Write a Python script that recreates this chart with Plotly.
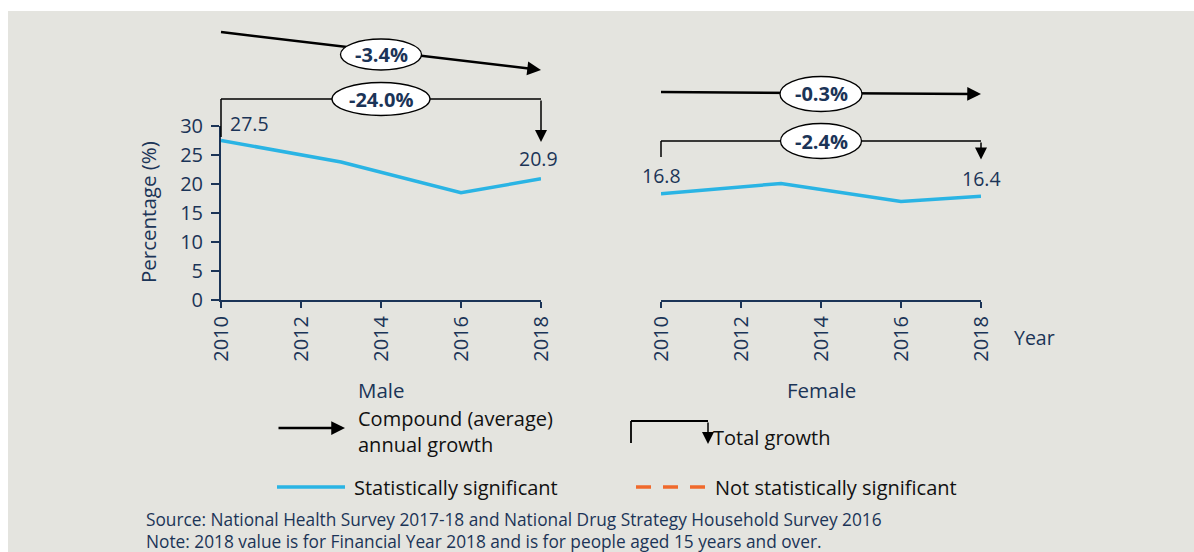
import plotly.graph_objects as go

# ---- data -------------------------------------------------------------
years_male = [2010, 2013, 2016, 2018]
pct_male = [27.5, 23.8, 18.5, 20.9]

years_female = [2010, 2013, 2016, 2018]
pct_female = [16.8, 18.6, 15.5, 16.4]

tick_years = [2010, 2012, 2014, 2016, 2018]
y_ticks = [0, 5, 10, 15, 20, 25, 30]

# ---- style ------------------------------------------------------------
W, H = 1194, 552
NAVY = "#1b3457"
BLUE = "#2ab4e4"
ORANGE = "#f0692c"
BG = "#e4e4df"
INK = "#111111"
FONT = "Open Sans"


def fx(px):
    return px / W


def fy(py):
    return 1 - py / H


def growth_labels(values):
    first, last = values[0], values[-1]
    total = (last / first - 1) * 100
    cagr = ((last / first) ** (1 / 8) - 1) * 100
    return f"{cagr:.1f}%", f"{total:.1f}%"


fig = go.Figure()

fig.add_trace(go.Scatter(x=years_male, y=pct_male, mode="lines",
                         line=dict(color=BLUE, width=3.5),
                         xaxis="x", yaxis="y", showlegend=False,
                         hoverinfo="x+y"))
fig.add_trace(go.Scatter(x=years_female, y=pct_female, mode="lines",
                         line=dict(color=BLUE, width=3.5),
                         xaxis="x2", yaxis="y2", showlegend=False,
                         hoverinfo="x+y"))

xaxis_common = dict(range=[2010, 2018], tickvals=tick_years, tickangle=-90,
                    ticks="outside", ticklen=6, tickwidth=2, tickcolor=NAVY,
                    showline=True, linecolor=NAVY, linewidth=2,
                    showgrid=False, zeroline=False, automargin=False,
                    tickfont=dict(family=FONT, size=20, color=NAVY))

fig.update_layout(
    width=W, height=H,
    margin=dict(l=0, r=0, t=0, b=0, pad=0, autoexpand=False),
    paper_bgcolor="white",
    plot_bgcolor="rgba(0,0,0,0)",
    font=dict(family=FONT, color=NAVY),
    xaxis=dict(domain=[fx(221), fx(541)], anchor="y", **xaxis_common),
    yaxis=dict(domain=[fy(300), fy(126)], anchor="x", range=[0, 30],
               tickvals=y_ticks, ticks="outside", ticklen=8, tickwidth=2,
               tickcolor=NAVY, showline=True, linecolor=NAVY, linewidth=2,
               showgrid=False, zeroline=False, ticklabelstandoff=4,
               automargin=False,
               tickfont=dict(family=FONT, size=20, color=NAVY)),
    xaxis2=dict(domain=[fx(661), fx(981)], anchor="y2", **xaxis_common),
    yaxis2=dict(domain=[fy(300), fy(126)], anchor="x2", range=[-1.5, 28.5],
                visible=False, automargin=False),
)

shapes = []
annotations = []

# background panel
shapes.append(dict(type="rect", xref="paper", yref="paper",
                   x0=fx(8), x1=1, y0=0, y1=fy(11),
                   fillcolor=BG, line=dict(width=0), layer="below"))

# value labels at first and last points
label_specs = [
    ("x", "y", years_male[0], pct_male[0], "left", 7, 2),
    ("x", "y", years_male[-1], pct_male[-1], "center", -3, 5),
    ("x2", "y2", years_female[0], pct_female[0], "center", 0, 3),
    ("x2", "y2", years_female[-1], pct_female[-1], "center", 0, 2),
]
for xr, yr, xv, yv, xa, xs, ys in label_specs:
    annotations.append(dict(xref=xr, yref=yr, x=xv, y=yv, text=f"{yv}",
                            showarrow=False, xanchor=xa, yanchor="bottom",
                            xshift=xs, yshift=ys,
                            font=dict(family=FONT, size=19.5, color=NAVY)))

# growth indicators per panel
panels = [
    dict(xref="x domain", vals=pct_male, tail_y=32, head_y=70,
         cagr_y=54.5, cagr_rx=40.5, cagr_ry=15.5,
         br_top=99, br_left=137, br_tip=142, tot_rx=49, tot_ry=16.5),
    dict(xref="x2 domain", vals=pct_female, tail_y=92, head_y=94,
         cagr_y=94, cagr_rx=41, cagr_ry=17.5,
         br_top=141, br_left=157, br_tip=159.5, tot_rx=40.5, tot_ry=17.5),
]
for p in panels:
    cagr_txt, total_txt = growth_labels(p["vals"])
    xr = p["xref"]
    # compound annual growth arrow: shaft as a shape, head as a short arrow
    frac = 1 - 8 / 320
    shaft_end = p["tail_y"] + (p["head_y"] - p["tail_y"]) * frac
    shapes.append(dict(type="line", xref=xr, yref="paper", x0=0, x1=frac,
                       y0=fy(p["tail_y"]), y1=fy(shaft_end),
                       line=dict(color="black", width=2.5)))
    drop = (p["head_y"] - p["tail_y"]) / 320 * 12
    annotations.append(dict(xref=xr, yref="paper", x=1, y=fy(p["head_y"]),
                            axref="pixel", ayref="pixel", ax=-12, ay=-drop,
                            text="", showarrow=True, arrowhead=2,
                            arrowsize=1.1, arrowwidth=2.5,
                            arrowcolor="black", standoff=0))
    # total growth bracket
    shapes.append(dict(type="line", xref=xr, yref="paper", x0=0, x1=1,
                       y0=fy(p["br_top"]), y1=fy(p["br_top"]),
                       line=dict(color="black", width=1.5)))
    shapes.append(dict(type="line", xref=xr, yref="paper", x0=0, x1=0,
                       y0=fy(p["br_top"]), y1=fy(p["br_left"]),
                       line=dict(color="black", width=1.5)))
    annotations.append(dict(xref=xr, yref="paper", x=1, y=fy(p["br_tip"]),
                            axref="pixel", ayref="pixel", ax=0,
                            ay=-(p["br_tip"] - p["br_top"]), text="",
                            showarrow=True, arrowhead=2, arrowsize=1.6,
                            arrowwidth=1.5, arrowcolor="black", standoff=0))
    # ellipse badges
    for cy, rx, ry, txt in [(p["cagr_y"], p["cagr_rx"], p["cagr_ry"], cagr_txt),
                            (p["br_top"], p["tot_rx"], p["tot_ry"], total_txt)]:
        shapes.append(dict(type="circle", xref=xr, yref="paper",
                           xsizemode="pixel", ysizemode="pixel",
                           xanchor=0.5, yanchor=fy(cy),
                           x0=-rx, x1=rx, y0=-ry, y1=ry,
                           fillcolor="white", line=dict(color="black", width=1.3)))
        annotations.append(dict(xref=xr, yref="paper", x=0.5, y=fy(cy),
                                text=f"<b>{txt}</b>", showarrow=False,
                                xanchor="center", yanchor="middle",
                                font=dict(family=FONT, size=20, color=NAVY)))

# axis titles and panel names
annotations += [
    dict(xref="paper", yref="paper", x=fx(148), y=fy(212), text="Percentage (%)",
         textangle=-90, showarrow=False, xanchor="center", yanchor="middle",
         font=dict(family=FONT, size=20.5, color=NAVY)),
    dict(xref="paper", yref="paper", x=fx(1012), y=fy(337), text="Year",
         showarrow=False, xanchor="left", yanchor="middle",
         font=dict(family=FONT, size=19.5, color=NAVY)),
    dict(xref="x domain", yref="paper", x=0.5, y=fy(390), text="Male",
         showarrow=False, xanchor="center", yanchor="middle",
         font=dict(family=FONT, size=20.5, color=NAVY)),
    dict(xref="x2 domain", yref="paper", x=0.5, y=fy(390), text="Female",
         showarrow=False, xanchor="center", yanchor="middle",
         font=dict(family=FONT, size=20.5, color=NAVY)),
]

# key
annotations += [
    dict(xref="paper", yref="paper", x=fx(345), y=fy(428), axref="pixel",
         ayref="pixel", ax=-68, ay=0, text="", showarrow=True, arrowhead=2,
         arrowsize=1.1, arrowwidth=2.5, arrowcolor="black", standoff=0),
    dict(xref="paper", yref="paper", x=fx(356), y=fy(431),
         text="Compound (average)<br>annual growth", showarrow=False,
         xanchor="left", yanchor="middle", align="left",
         font=dict(family=FONT, size=20, color=INK)),
    dict(xref="paper", yref="paper", x=fx(708), y=fy(444), axref="pixel",
         ayref="pixel", ax=0, ay=-23, text="", showarrow=True, arrowhead=2,
         arrowsize=1.6, arrowwidth=1.5, arrowcolor="black", standoff=0),
    dict(xref="paper", yref="paper", x=fx(711), y=fy(437), text="Total growth",
         showarrow=False, xanchor="left", yanchor="middle",
         font=dict(family=FONT, size=20, color=INK)),
    dict(xref="paper", yref="paper", x=fx(352), y=fy(487),
         text="Statistically significant", showarrow=False,
         xanchor="left", yanchor="middle",
         font=dict(family=FONT, size=20, color=INK)),
    dict(xref="paper", yref="paper", x=fx(713), y=fy(487),
         text="Not statistically significant", showarrow=False,
         xanchor="left", yanchor="middle",
         font=dict(family=FONT, size=20, color=INK)),
    dict(xref="paper", yref="paper", x=fx(144), y=fy(530),
         text="Source: National Health Survey 2017-18 and National Drug Strategy Household Survey 2016"
              "<br>Note: 2018 value is for Financial Year 2018 and is for people aged 15 years and over.",
         showarrow=False, xanchor="left", yanchor="middle", align="left",
         font=dict(family=FONT, size=17.3, color=NAVY)),
]
shapes += [
    dict(type="line", xref="paper", yref="paper", x0=fx(631), x1=fx(631),
         y0=fy(421), y1=fy(443), line=dict(color="black", width=1.8)),
    dict(type="line", xref="paper", yref="paper", x0=fx(631), x1=fx(708),
         y0=fy(421), y1=fy(421), line=dict(color="black", width=1.8)),
    dict(type="line", xref="paper", yref="paper", x0=fx(277), x1=fx(345),
         y0=fy(487), y1=fy(487), line=dict(color=BLUE, width=3.5)),
    dict(type="line", xref="paper", yref="paper", x0=fx(636), x1=fx(706),
         y0=fy(487), y1=fy(487), line=dict(color=ORANGE, width=3.5, dash="15px,12px")),
]

fig.update_layout(shapes=shapes, annotations=annotations)
fig.write_html("out.html")
